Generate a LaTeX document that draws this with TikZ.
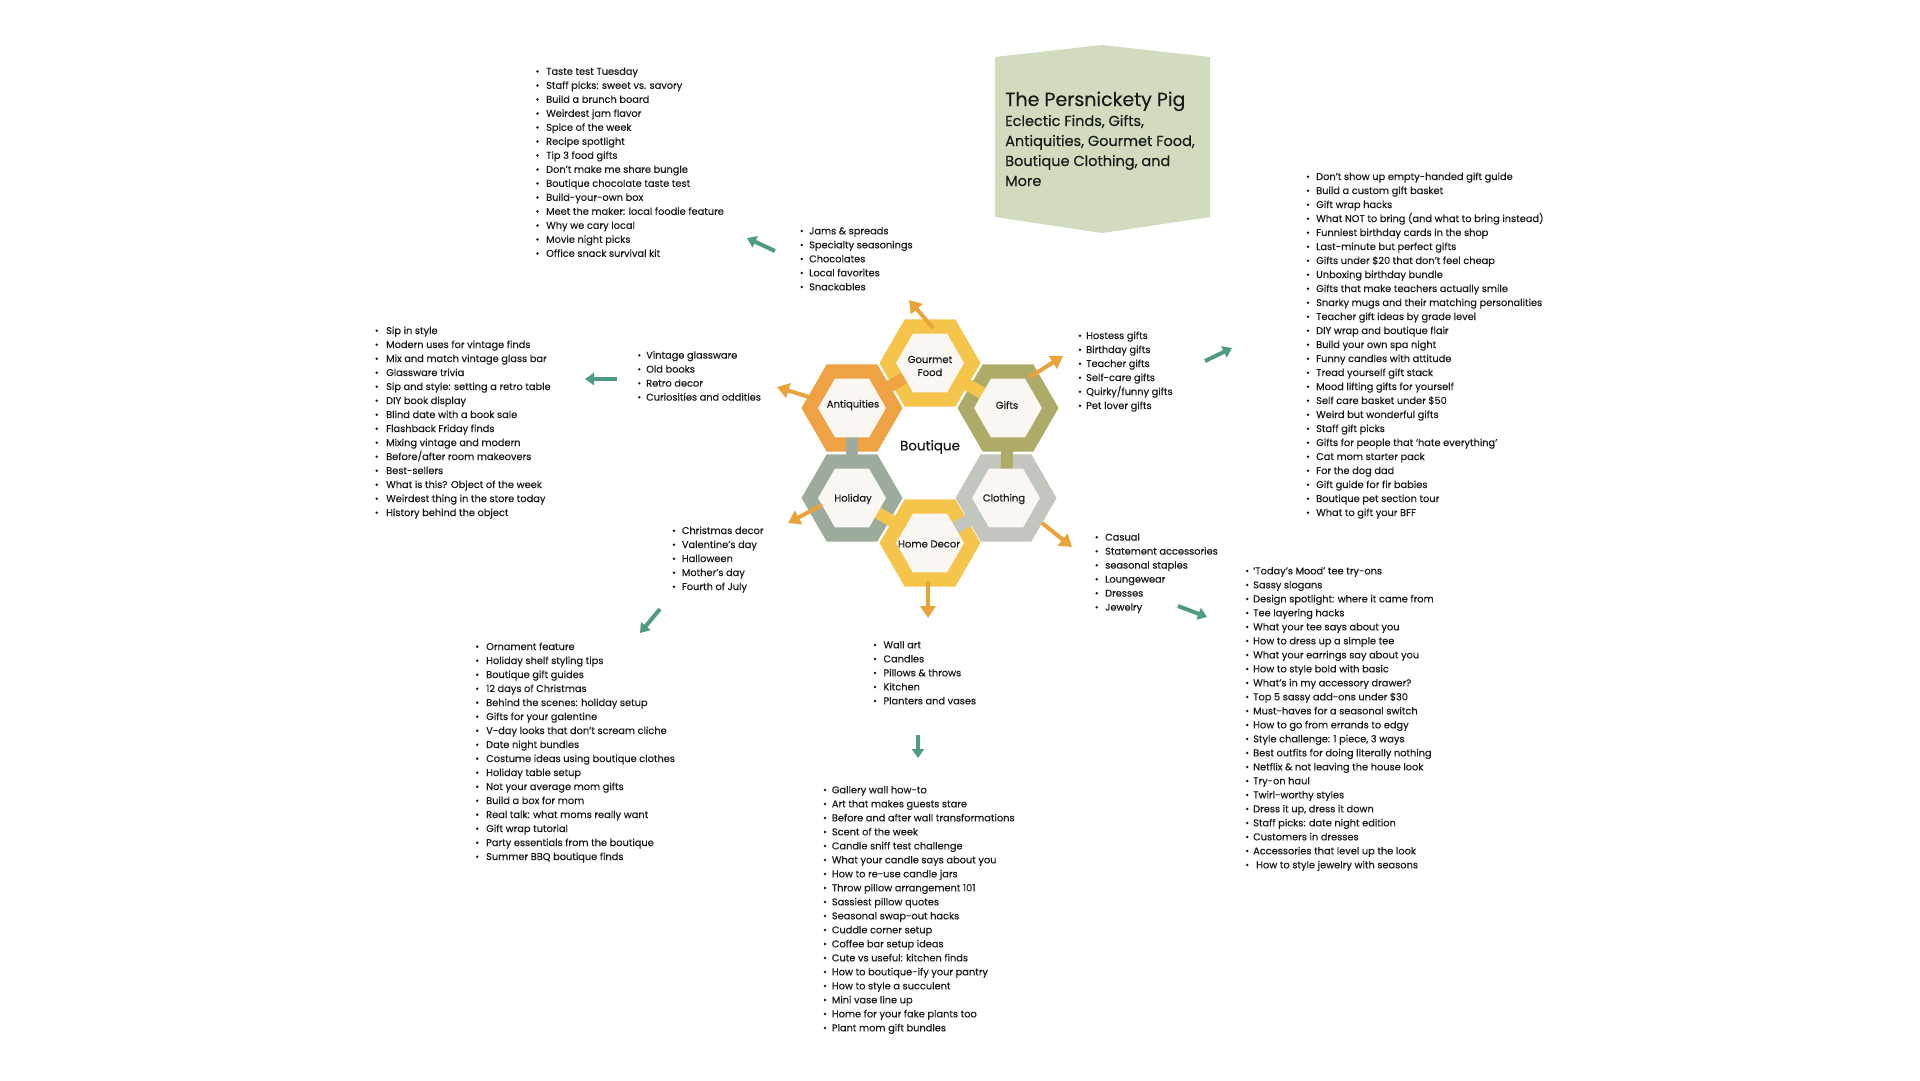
\documentclass[tikz,border=0pt]{standalone}
\usepackage{fontspec}
\setmainfont{Poppins}[FakeBold=0.35]
\usetikzlibrary{shapes.geometric,arrows.meta,calc}

\definecolor{sage}{HTML}{D1DCBF}
\definecolor{hyellow}{HTML}{F5C54B}
\definecolor{horange}{HTML}{EFA243}
\definecolor{holive}{HTML}{AEAB69}
\definecolor{hgray}{HTML}{C2C6BE}
\definecolor{hgreen}{HTML}{9DAB9C}
\definecolor{hinner}{HTML}{FAF7F3}
\definecolor{oarrowc}{HTML}{EAA33A}
\definecolor{garrowc}{HTML}{4E9A82}
\definecolor{ink}{HTML}{1A1A1A}

\newcommand\bulletlist[5]{%
  \foreach \t [count=\i from 0] in {#5} {
    \fill[ink] (#2, #4+\i*14) circle (1.35);
    \node[item] (#1-\i) at (#3, #4+\i*14+3.3) {\t};
  }}

\begin{document}
\begin{tikzpicture}[x=1pt,y=-1pt,
  hexout/.style={regular polygon, regular polygon sides=6, minimum size=101pt, inner sep=0pt, outer sep=0pt, fill=#1},
  hexin/.style={regular polygon, regular polygon sides=6, minimum size=68pt, inner sep=0pt, outer sep=0pt, fill=hinner},
  hexlabel/.style={font=\fontsize{10}{13}\selectfont, text=ink, align=center, inner sep=0pt},
  bar/.style={line width=12pt, draw=#1},
  oarrow/.style={draw=oarrowc, line width=4pt, -{Triangle[width=15pt,length=12pt]}},
  garrow/.style={draw=garrowc, line width=4pt, -{Triangle[width=12pt,length=9pt]}},
  item/.style={anchor=base west, inner sep=0pt, font=\fontsize{9.8}{14}\selectfont, text=ink},
  titlefont/.style={anchor=base west, inner sep=0pt, text=ink},
]
\useasboundingbox (0,0) rectangle (1920,1080);
\fill[white] (0,0) rectangle (1920,1080);

% title box
\fill[sage] (995,57) -- (1102,45) -- (1210,57) -- (1210,217) -- (1102,233) -- (995,217) -- cycle;
\node[titlefont, font=\fontsize{19}{24}\selectfont] (title) at (1005,106) {The Persnickety Pig};
\node[titlefont, font=\fontsize{14.5}{20}\selectfont] (sub1) at (1005,126) {Eclectic Finds, Gifts,};
\node[titlefont, font=\fontsize{14.5}{20}\selectfont] (sub2) at (1005,146) {Antiquities, Gourmet Food,};
\node[titlefont, font=\fontsize{14.5}{20}\selectfont] (sub3) at (1005,166) {Boutique Clothing, and};
\node[titlefont, font=\fontsize{14.5}{20}\selectfont] (sub4) at (1005,186) {More};

% hexagons
\node[hexout=hyellow] (gourO) at (930,363) {};
\node[hexout=horange] (antO) at (852,408) {};
\node[hexout=hgreen] (holO) at (852,498) {};
\node[hexout=hyellow] (homeO) at (930,543) {};
\node[hexout=hgray] (clothO) at (1006,498) {};
\node[hexout=holive] (giftO) at (1008,408) {};

\draw[bar=horange] (antO.center) -- (gourO.center);
\draw[bar=hyellow] (gourO.center) -- (giftO.center);
\draw[bar=holive] (giftO.center) -- (clothO.center);
\draw[bar=hgray] (clothO.center) -- (homeO.center);
\draw[bar=hyellow] (homeO.center) -- (holO.center);
\draw[bar=hgreen] (holO.center) -- (antO.center);

\node[hexin] (gourI) at (gourO) {};
\node[hexin] (antI) at (antO) {};
\node[hexin] (holI) at (holO) {};
\node[hexin] (homeI) at (homeO) {};
\node[hexin] (clothI) at (clothO) {};
\node[hexin] (giftI) at (giftO) {};

\node[hexlabel] (gourL) at (930,366) {Gourmet\\Food};
\node[hexlabel] (antL) at (853,405) {Antiquities};
\node[hexlabel] (giftL) at (1007,405) {Gifts};
\node[hexlabel] (holL) at (853,499) {Holiday};
\node[hexlabel] (clothL) at (1004,499) {Clothing};
\node[hexlabel] (homeL) at (929,544) {Home Decor};
\node[hexlabel, font=\fontsize{13.5}{16}\selectfont] (boutique) at (930,447) {Boutique};

% orange arrows
\coordinate (oa1) at (933,328);   \coordinate (ob1) at (909,300);
\coordinate (oa2) at (1030,377);  \coordinate (ob2) at (1063,356);
\coordinate (oa3) at (812,398);   \coordinate (ob3) at (777,387);
\coordinate (oa4) at (822,505);   \coordinate (ob4) at (788,523);
\coordinate (oa5) at (1042,523);  \coordinate (ob5) at (1072,547);
\coordinate (oa6) at (928,581);   \coordinate (ob6) at (928,618);
\foreach \k in {1,...,6} \draw[oarrow] (oa\k) -- (ob\k);

% green arrows
\coordinate (ga1) at (775,251);   \coordinate (gb1) at (747,238);
\coordinate (ga2) at (617,379);   \coordinate (gb2) at (585,379);
\coordinate (ga3) at (1205,361);  \coordinate (gb3) at (1232,348);
\coordinate (ga4) at (660,609);   \coordinate (gb4) at (640,633);
\coordinate (ga5) at (918,735);   \coordinate (gb5) at (918,758);
\coordinate (ga6) at (1178,606);  \coordinate (gb6) at (1207,617);
\foreach \k in {1,...,6} \draw[garrow] (ga\k) -- (gb\k);

% lists
\bulletlist{gtop}{537.5}{546}{71.5}{Taste test Tuesday, Staff picks: sweet vs. savory, Build a brunch board, Weirdest jam flavor, Spice of the week, Recipe spotlight, Tip 3 food gifts, Don’t make me share bungle, Boutique chocolate taste test, Build-your-own box, Meet the maker: local foodie feature, Why we cary local, Movie night picks, Office snack survival kit}

\bulletlist{gsub}{801.7}{809}{231}{Jams \& spreads, Specialty seasonings, Chocolates, Local favorites, Snackables}

\bulletlist{fsub}{1080}{1086}{335.7}{Hostess gifts, Birthday gifts, Teacher gifts, Self-care gifts, Quirky/funny gifts, Pet lover gifts}

\bulletlist{ftop}{1308}{1316}{176.7}{Don’t show up empty-handed gift guide, Build a custom gift basket, Gift wrap hacks, What NOT to bring (and what to bring instead), Funniest birthday cards in the shop, Last-minute but perfect gifts, Gifts under \$20 that don’t feel cheap, Unboxing birthday bundle, Gifts that make teachers actually smile, Snarky mugs and their matching personalities, Teacher gift ideas by grade level, DIY wrap and boutique flair, Build your own spa night, Funny candles with attitude, Tread yourself gift stack, Mood lifting gifts for yourself, Self care basket under \$50, Weird but wonderful gifts, Staff gift picks, Gifts for people that ‘hate everything’, Cat mom starter pack, For the dog dad, Gift guide for fir babies, Boutique pet section tour, What to gift your BFF}

\bulletlist{asub}{639.3}{646}{355.3}{Vintage glassware, Old books, Retro decor, Curiosities and oddities}

\bulletlist{atop}{376.7}{386}{330.7}{Sip in style, Modern uses for vintage finds, Mix and match vintage glass bar, Glassware trivia, Sip and style: setting a retro table, DIY book display, Blind date with a book sale, Flashback Friday finds, Mixing vintage and modern, Before/after room makeovers, Best-sellers, What is this? Object of the week, Weirdest thing in the store today, History behind the object}

\bulletlist{hsub}{674}{681.7}{530.7}{Christmas decor, Valentine’s day, Halloween, Mother’s day, Fourth of July}

\bulletlist{htop}{477.3}{486}{646.7}{Ornament feature, Holiday shelf styling tips, Boutique gift guides, 12 days of Christmas, Behind the scenes: holiday setup, Gifts for your galentine, V-day looks that don’t scream cliche, Date night bundles, Costume ideas using boutique clothes, Holiday table setup, Not your average mom gifts, Build a box for mom, Real talk: what moms really want, Gift wrap tutorial, Party essentials from the boutique, Summer BBQ boutique finds}

\bulletlist{dsub}{875}{883.3}{645}{Wall art, Candles, Pillows \& throws, Kitchen, Planters and vases}

\bulletlist{dtop}{825}{831.7}{790}{Gallery wall how-to, Art that makes guests stare, Before and after wall transformations, Scent of the week, Candle sniff test challenge, What your candle says about you, How to re-use candle jars, Throw pillow arrangement 101, Sassiest pillow quotes, Seasonal swap-out hacks, Cuddle corner setup, Coffee bar setup ideas, Cute vs useful: kitchen finds, How to boutique-ify your pantry, How to style a succulent, Mini vase line up, Home for your fake plants too, Plant mom gift bundles}

\bulletlist{csub}{1096.7}{1105}{537.3}{Casual, Statement accessories, seasonal staples, Loungewear, Dresses, Jewelry}

\bulletlist{ctop}{1247.3}{1253}{571}{‘Today’s Mood’ tee try-ons, Sassy slogans, Design spotlight: where it came from, Tee layering hacks, What your tee says about you, How to dress up a simple tee, What your earrings say about you, How to style bold with basic, What’s in my accessory drawer?, Top 5 sassy add-ons under \$30, Must-haves for a seasonal switch, How to go from errands to edgy, {Style challenge: 1 piece, 3 ways}, Best outfits for doing literally nothing, Netflix \& not leaving the house look, Try-on haul, Twirl-worthy styles, {Dress it up, dress it down}, Staff picks: date night edition, Customers in dresses, Accessories that level up the look, \hspace{3pt}How to style jewelry with seasons}
\end{tikzpicture}
\end{document}
